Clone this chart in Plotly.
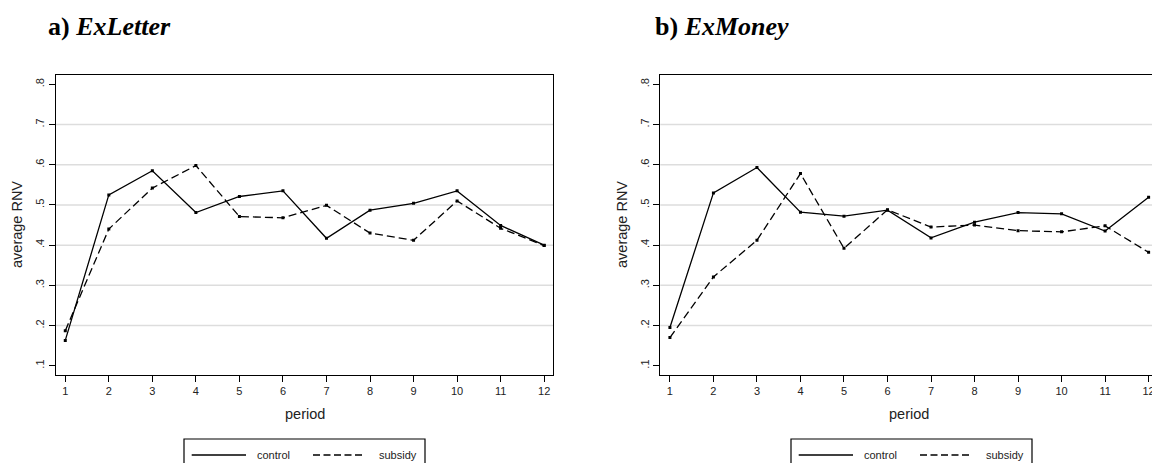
import plotly.graph_objects as go

# ---------------- data ----------------
periods = list(range(1, 13))
letter_control = [0.163, 0.525, 0.585, 0.481, 0.521, 0.535, 0.417, 0.487, 0.504, 0.535, 0.449, 0.400]
letter_subsidy = [0.187, 0.440, 0.542, 0.598, 0.471, 0.468, 0.499, 0.430, 0.412, 0.510, 0.442, 0.399]
money_control = [0.195, 0.530, 0.593, 0.482, 0.472, 0.487, 0.418, 0.457, 0.481, 0.478, 0.435, 0.519]
money_subsidy = [0.170, 0.321, 0.412, 0.578, 0.392, 0.488, 0.445, 0.450, 0.436, 0.433, 0.448, 0.382]
series_names = ["control", "subsidy"]
y_ticks = [0.1, 0.2, 0.3, 0.4, 0.5, 0.6, 0.7, 0.8]
y_tick_labels = [".1", ".2", ".3", ".4", ".5", ".6", ".7", ".8"]
grid_values = [0.2, 0.3, 0.4, 0.5, 0.6, 0.7]
panel_titles = ["<b>a) <i>ExLetter</i></b>", "<b>b) <i>ExMoney</i></b>"]
x_title = "period"
y_title = "average RNV"

W, H = 1152, 463
SANS = "Liberation Sans, Arial, Helvetica, sans-serif"
SERIF = "Liberation Serif, Times New Roman, serif"
DASH = "8px,4px"
LEG_DASH = "7px,3.5px"

fig = go.Figure()

panels = [
    ("x", "y", letter_control, letter_subsidy),
    ("x2", "y2", money_control, money_subsidy),
]
for xa, ya, ctrl, subs in panels:
    fig.add_trace(go.Scatter(
        x=periods, y=ctrl, name=series_names[0], xaxis=xa, yaxis=ya,
        mode="lines+markers", line=dict(color="black", width=1.3),
        marker=dict(symbol="square", size=3, color="black")))
    fig.add_trace(go.Scatter(
        x=periods, y=subs, name=series_names[1], xaxis=xa, yaxis=ya,
        mode="lines+markers", line=dict(color="black", width=1.3, dash=DASH),
        marker=dict(symbol="square", size=3, color="black")))

# horizontal gridlines (Stata style: interior ticks only)
shapes = []
for ya, xd in (("y", "x domain"), ("y2", "x2 domain")):
    for g in grid_values:
        shapes.append(dict(type="line", xref=xd, yref=ya, x0=0, x1=1, y0=g, y1=g,
                           line=dict(color="#dddddd", width=1.5), layer="below"))

y_dom = [1 - 374.7 / H, 1 - 75 / H]
common_x = dict(tickmode="array", tickvals=periods, ticks="outside", ticklen=6,
                tickwidth=1, tickcolor="black", showgrid=False, zeroline=False,
                showline=True, linecolor="black", linewidth=1.3,
                tickfont=dict(family=SANS, size=11, color="#222"))
common_y = dict(tickmode="array", tickvals=y_ticks, ticktext=y_tick_labels,
                ticks="outside", ticklen=6, tickwidth=1, tickcolor="black",
                tickangle=-90, showgrid=False, zeroline=False, showline=True,
                linecolor="black", linewidth=1.3, range=[0.0776, 0.8233],
                domain=y_dom, tickfont=dict(family=SANS, size=11, color="#222"))

annotations = []

# legend boxes (Stata style, drawn below each panel)
legend_left = [184, 791]
for lx in legend_left:
    def px(v):
        return (lx + v) / W
    ly = 1 - 455 / H
    shapes.append(dict(type="rect", xref="paper", yref="paper",
                       x0=px(0), x1=px(241), y0=1 - 439 / H, y1=1 - 475 / H,
                       line=dict(color="black", width=1.2), fillcolor="white"))
    shapes.append(dict(type="line", xref="paper", yref="paper",
                       x0=px(7.7), x1=px(62), y0=ly, y1=ly,
                       line=dict(color="black", width=1.3)))
    shapes.append(dict(type="line", xref="paper", yref="paper",
                       x0=px(129), x1=px(180), y0=ly, y1=ly,
                       line=dict(color="black", width=1.3, dash=LEG_DASH)))
    annotations.append(dict(text=series_names[0], xref="paper", yref="paper",
                            x=px(71), y=ly, xanchor="left", yanchor="middle",
                            showarrow=False, font=dict(family=SANS, size=11, color="#222")))
    annotations.append(dict(text=series_names[1], xref="paper", yref="paper",
                            x=px(193), y=ly, xanchor="left", yanchor="middle",
                            showarrow=False, font=dict(family=SANS, size=11, color="#222")))

fig.update_layout(
    width=W, height=H,
    margin=dict(l=0, r=0, t=0, b=0, autoexpand=False),
    paper_bgcolor="white", plot_bgcolor="white",
    showlegend=False,
    hovermode=False,
    xaxis=dict(common_x, domain=[55.7 / W, 553.3 / W], range=[0.78, 12.21],
               mirror=True, anchor="y"),
    yaxis=dict(common_y, mirror=True, anchor="x"),
    xaxis2=dict(common_x, domain=[660.3 / W, 1.0], range=[0.779, 12.078],
                mirror=True, anchor="y2", ticklabeloverflow="allow"),
    yaxis2=dict(common_y, mirror=False, anchor="x2"),
    shapes=shapes,
)

title_x = [46, 653]
plot_centers = [(55.7 + 553.3) / 2, (660.3 + 1157.9) / 2]
ytitle_x = [17, 622]
for i in range(2):
    annotations.append(dict(text=panel_titles[i], xref="paper", yref="paper",
                            x=title_x[i] / W, y=1 - 26 / H, xanchor="left", yanchor="middle",
                            showarrow=False, font=dict(family=SERIF, size=26, color="black")))
    annotations.append(dict(text=x_title, xref="paper", yref="paper",
                            x=plot_centers[i] / W, y=1 - 414 / H, xanchor="center", yanchor="middle",
                            showarrow=False, font=dict(family=SANS, size=14.5, color="#222")))
    annotations.append(dict(text=y_title, xref="paper", yref="paper", textangle=-90,
                            x=ytitle_x[i] / W, y=1 - 225 / H, xanchor="center", yanchor="middle",
                            showarrow=False, font=dict(family=SANS, size=14.5, color="#222")))
fig.update_layout(annotations=annotations)

fig.write_html("out.html", config={"displayModeBar": False},
               post_script="document.body.style.margin='0';")
